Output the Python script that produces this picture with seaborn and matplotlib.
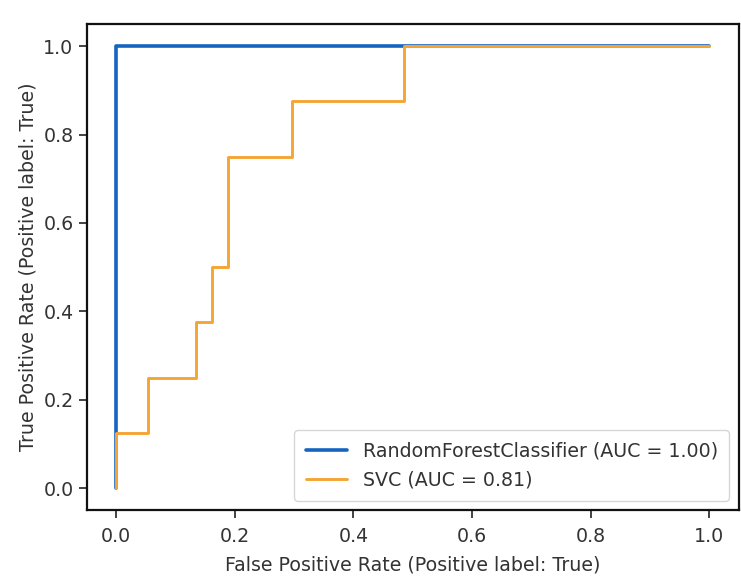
import pandas as pd
import seaborn as sns
import matplotlib.pyplot as plt

# ROC points
rf_fpr = [0.0, 0.0, 1.0]
rf_tpr = [0.0, 1.0, 1.0]

svc_fpr = [0.0, 0.0, 0.054, 0.054, 0.135, 0.135, 0.162, 0.162, 0.189, 0.189,
           0.297, 0.297, 0.486, 0.486, 1.0]
svc_tpr = [0.0, 0.125, 0.125, 0.25, 0.25, 0.375, 0.375, 0.5, 0.5, 0.75,
           0.75, 0.875, 0.875, 1.0, 1.0]

labels = ["RandomForestClassifier (AUC = 1.00)", "SVC (AUC = 0.81)"]
colors = ["#1565c0", "#f4a536"]

df_rf = pd.DataFrame({"fpr": rf_fpr, "tpr": rf_tpr, "model": labels[0]})
df_svc = pd.DataFrame({"fpr": svc_fpr, "tpr": svc_tpr, "model": labels[1]})

sns.set_style("ticks")
plt.rcParams["font.family"] = ["DejaVu Sans"]
fs = 13.7

fig = plt.figure(figsize=(7.41, 5.87), dpi=100)
ax = fig.add_axes([0.117, 0.131, 0.880, 0.828])

sns.lineplot(x="fpr", y="tpr", data=df_rf, ax=ax, sort=False, estimator=None,
             color=colors[0], linewidth=2.6, label=labels[0])
sns.lineplot(x="fpr", y="tpr", data=df_svc, ax=ax, sort=False, estimator=None,
             color=colors[1], linewidth=2.1, label=labels[1])

ax.set_xlim(-0.05, 1.05)
ax.set_ylim(-0.05, 1.05)
ax.set_xticks([0.0, 0.2, 0.4, 0.6, 0.8, 1.0])
ax.set_yticks([0.0, 0.2, 0.4, 0.6, 0.8, 1.0])
ax.tick_params(labelsize=fs, length=6, width=1.2, colors="#222222", labelcolor="#333333")
ax.tick_params(axis="x", pad=6)
for s in ax.spines.values():
    s.set_linewidth(1.6)
    s.set_color("#111111")
ax.set_xlabel("False Positive Rate (Positive label: True)", fontsize=fs, color="#333333", labelpad=7)
ax.set_ylabel("True Positive Rate (Positive label: True)", fontsize=fs, color="#333333")
leg = ax.legend(loc="lower right", fontsize=fs, handlelength=2.2, framealpha=0.8,
                borderpad=0.6, labelspacing=0.5)
for t in leg.get_texts():
    t.set_color("#333333")

fig.savefig("out.png", dpi=100)
